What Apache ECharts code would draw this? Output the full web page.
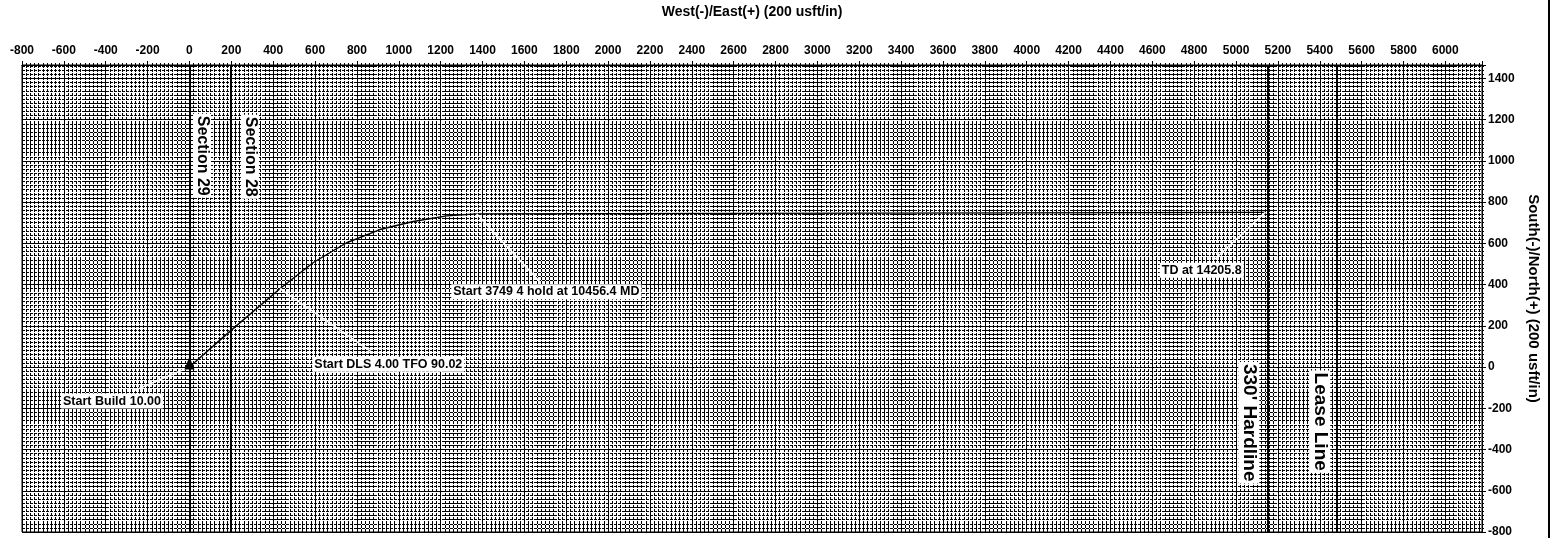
<!DOCTYPE html>
<html><head><meta charset="utf-8">
<script src="https://cdn.jsdelivr.net/npm/echarts@6/dist/echarts.min.js"></script>
<style>html,body{margin:0;padding:0;background:#fff}#c{width:1552px;height:538px}</style>
</head><body><div id="c"></div>
<script>
// Wellpath (plan view), usft
const wellEast  = [0, 193, 432, 592, 751, 910, 1069, 1229, 1372, 5140];
const wellNorth = [0, 173, 380, 507, 603, 667, 706, 733, 743, 750];
// Annotations
const annoText = ['Start Build 10.00', 'Start DLS 4.00 TFO 90.02', 'Start 3749 4 hold at 10456.4 MD', 'TD at 14205.8'];
const annoAnchor = [[0, 0], [432, 380], [1372, 743], [5140, 750]];
const annoLabelAt = [[-370, -165], [950, 13], [1705, 365], [4836, 470]];
const annoLeaderEnd = [[-260, -112], [876, 69], [1674, 413], [4898, 523]];
// Boundary lines (East coordinate)
const boundaryNames = ['Section 29', 'Section 28', "330' Hardline", 'Lease Line'];
const boundaryEast = [0, 195, 5150, 5480];
const boundaryLabelAt = [[60, 1025], [289, 1020], [5061, -270], [5400, -265]];
// Axis ranges
const xMin = -800, xMax = 6175, yMin = -800, yMax = 1465, tickStep = 200;

const FONT = '"Liberation Sans", Arial, sans-serif';
const fmt = v => (Math.abs(v % tickStep) < 1e-6 ? String(v) : '');

const chart = echarts.init(document.getElementById('c'), null, {renderer: 'canvas'});
const axisCommon = {
  type: 'value', interval: tickStep,
  axisLine: {show: true, onZero: false, lineStyle: {color: '#000', width: 1}},
  axisTick: {show: true, length: 4, lineStyle: {color: '#000'}},
  minorTick: {show: true, splitNumber: 10, length: 2, lineStyle: {color: '#000'}},
  splitLine: {show: true, lineStyle: {color: '#000', width: 1}},
  minorSplitLine: {show: true, lineStyle: {color: '#000', width: 1, type: [3, 1]}},
  axisLabel: {color: '#000', fontSize: 12, fontWeight: 'bold', fontFamily: FONT, formatter: fmt},
  nameTextStyle: {color: '#000', fontWeight: 'bold', fontFamily: FONT},
  nameLocation: 'middle'
};
const labelBase = {show: true, position: 'inside', color: '#000', opacity: 1,
  fontWeight: 'bold', fontFamily: FONT, backgroundColor: '#fff', padding: [1, 2]};
const option = {
  animation: false,
  backgroundColor: '#fff',
  grid: {left: 22, right: 70, top: 58, bottom: 6, show: true, borderColor: '#000', borderWidth: 1, backgroundColor: '#fff'},
  xAxis: Object.assign({}, axisCommon, {
    position: 'top', min: xMin, max: xMax,
    name: 'West(-)/East(+) (200 usft/in)', nameGap: 46,
    nameTextStyle: Object.assign({}, axisCommon.nameTextStyle, {fontSize: 14}),
    axisLabel: Object.assign({}, axisCommon.axisLabel, {margin: 8})
  }),
  yAxis: Object.assign({}, axisCommon, {
    position: 'right', min: yMin, max: yMax,
    name: 'South(-)/North(+) (200 usft/in)', nameGap: 42, nameRotate: -90,
    nameTextStyle: Object.assign({}, axisCommon.nameTextStyle, {fontSize: 15}),
    axisLabel: Object.assign({}, axisCommon.axisLabel, {margin: 6})
  }),
  series: [
    {
      type: 'line', silent: true, symbol: 'none', z: 5,
      data: wellEast.map((e, i) => [e, wellNorth[i]]),
      lineStyle: {color: '#000', width: 1.4},
      markLine: {
        silent: true, symbol: 'none', label: {show: false},
        lineStyle: {color: '#000', width: 2, type: 'solid'},
        data: boundaryEast.map(e => ({xAxis: e}))
      }
    },
    {
      type: 'lines', coordinateSystem: 'cartesian2d', silent: true, z: 6,
      lineStyle: {color: '#fff', width: 1.6, opacity: 1},
      data: annoAnchor.map((a, i) => ({coords: [a, annoLeaderEnd[i]]}))
    },
    {
      type: 'scatter', silent: true, z: 8, symbol: 'triangle', symbolSize: [10, 13], symbolOffset: [0, -4],
      itemStyle: {color: '#000', opacity: 1},
      data: [[wellEast[0], wellNorth[0]]]
    },
    {
      type: 'scatter', silent: true, z: 10, symbolSize: 1, itemStyle: {color: 'rgba(0,0,0,0)', opacity: 1},
      data: annoLabelAt.map((p, i) => ({value: p, name: annoText[i]})),
      label: Object.assign({}, labelBase, {fontSize: 12.5, formatter: p => p.name})
    },
    {
      type: 'scatter', silent: true, z: 10, symbolSize: 1, itemStyle: {color: 'rgba(0,0,0,0)', opacity: 1},
      data: boundaryLabelAt.map((p, i) => ({value: p, name: boundaryNames[i],
        label: {fontSize: i < 2 ? 16 : 19}})),
      label: Object.assign({}, labelBase, {rotate: -90, formatter: p => p.name})
    }
  ],
  graphic: [{type: 'rect', shape: {x: 1548, y: 0, width: 2, height: 538}, style: {fill: '#000'}, silent: true}]
};
chart.setOption(option);
</script></body></html>
